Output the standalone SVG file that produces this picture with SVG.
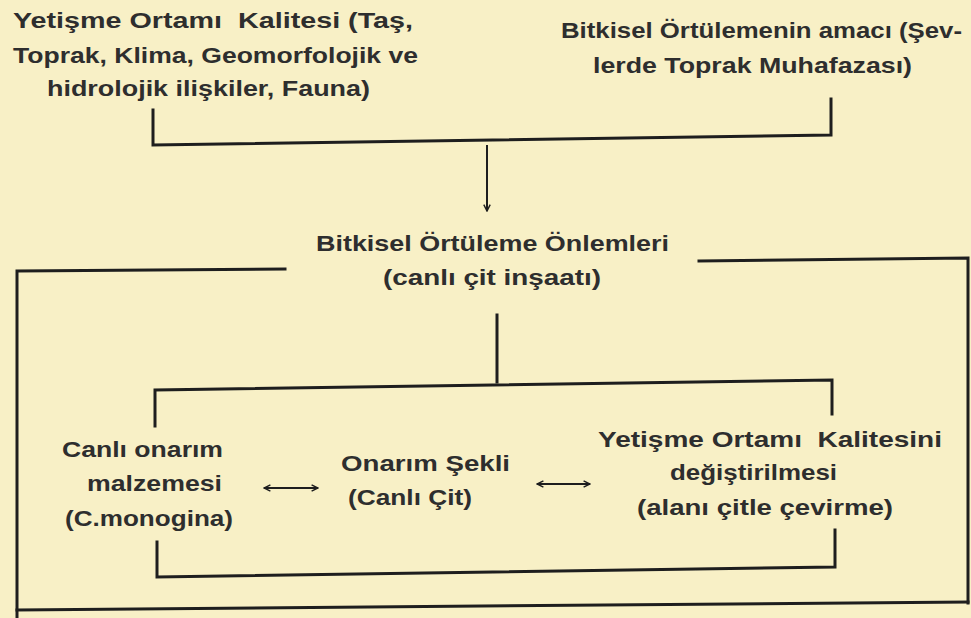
<svg xmlns="http://www.w3.org/2000/svg" width="971" height="618" viewBox="0 0 971 618">
<style>
text{font-family:"Liberation Sans","DejaVu Sans",Arial,sans-serif;font-weight:bold;font-size:22px;fill:#2e2e2e;white-space:pre}
.ln{fill:none;stroke:#1e1e1e;stroke-width:3;stroke-linecap:square}
.ar{fill:none;stroke:#1e1e1e;stroke-width:2}
</style>
<defs>
<marker id="ah" viewBox="0 0 10 10" refX="9" refY="5" markerWidth="8" markerHeight="8" orient="auto-start-reverse" markerUnits="userSpaceOnUse">
<path d="M1,1 L9,5 L1,9" fill="none" stroke="#1e1e1e" stroke-width="1.8"/>
</marker>
</defs>
<rect width="971" height="618" fill="#f8f0c6"/>
<g id="node-yetisme">
<text x="13" y="28" textLength="400" lengthAdjust="spacingAndGlyphs" xml:space="preserve">Yetişme Ortamı  Kalitesi (Taş,</text>
<text x="13" y="63" textLength="405" lengthAdjust="spacingAndGlyphs">Toprak, Klima, Geomorfolojik ve</text>
<text x="47" y="96" textLength="323" lengthAdjust="spacingAndGlyphs">hidrolojik ilişkiler, Fauna)</text>
</g>
<g id="node-amac">
<text x="561" y="38" textLength="401" lengthAdjust="spacingAndGlyphs">Bitkisel Örtülemenin amacı (Şev-</text>
<text x="593" y="73" textLength="319" lengthAdjust="spacingAndGlyphs">lerde Toprak Muhafazası)</text>
</g>
<g id="node-onlemler">
<text x="316" y="251" textLength="353" lengthAdjust="spacingAndGlyphs">Bitkisel Örtüleme Önlemleri</text>
<text x="383" y="285" textLength="218" lengthAdjust="spacingAndGlyphs">(canlı çit inşaatı)</text>
</g>
<g id="node-malzeme">
<text x="62" y="457" textLength="161" lengthAdjust="spacingAndGlyphs">Canlı onarım</text>
<text x="87" y="491" textLength="135" lengthAdjust="spacingAndGlyphs">malzemesi</text>
<text x="65" y="526" textLength="168" lengthAdjust="spacingAndGlyphs">(C.monogina)</text>
</g>
<g id="node-sekil">
<text x="341" y="471" textLength="169" lengthAdjust="spacingAndGlyphs">Onarım Şekli</text>
<text x="348" y="505" textLength="124" lengthAdjust="spacingAndGlyphs">(Canlı Çit)</text>
</g>
<g id="node-kalite">
<text x="598" y="447" textLength="344" lengthAdjust="spacingAndGlyphs" xml:space="preserve">Yetişme Ortamı  Kalitesini</text>
<text x="670" y="480" textLength="167" lengthAdjust="spacingAndGlyphs">değiştirilmesi</text>
<text x="637" y="515" textLength="256" lengthAdjust="spacingAndGlyphs">(alanı çitle çevirme)</text>
</g>
<g id="connectors">
<path class="ln" d="M153,110 L153,145 L831,135 L831,99"/>
<path class="ar" d="M487,145 L487,211" marker-end="url(#ah)"/>
<path class="ln" d="M285,269 L17,271 L17,617"/>
<path class="ln" d="M699,261 L968,258 L968,603"/>
<path class="ln" d="M17,610 L968,602"/>
<path class="ln" d="M497,315 L497,382"/>
<path class="ln" d="M155,426 L155,390 L832,380 L832,414"/>
<path class="ln" d="M157,542 L157,577 L835,567 L835,530"/>
<path class="ar" d="M264,488 L318,488" marker-start="url(#ah)" marker-end="url(#ah)"/>
<path class="ar" d="M537,484 L590,484" marker-start="url(#ah)" marker-end="url(#ah)"/>
</g>
</svg>
